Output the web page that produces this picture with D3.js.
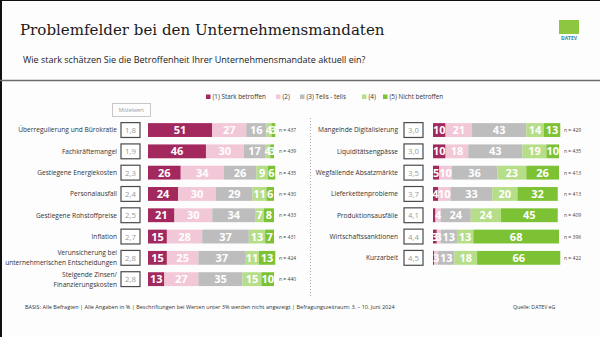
<!DOCTYPE html>
<html>
<head>
<meta charset="utf-8">
<script src="https://cdn.jsdelivr.net/npm/d3@7/dist/d3.min.js"></script>
<style>
body { margin: 0; background: #fdfdfd; }
svg { display: block; }
text { font-family: "Open Sans", "Noto Sans", sans-serif; }
</style>
</head>
<body>
<script>
// --- data ---
var legendLabels = ["(1) Stark betroffen", "(2)", "(3) Teils - teils", "(4)", "(5) Nicht betroffen"];

var leftCats = ["Überregulierung und Bürokratie", "Fachkräftemangel", "Gestiegene Energiekosten", "Personalausfall",
  "Gestiegene Rohstoffpreise", "Inflation", "Verunsicherung bei|unternehmerischen Entscheidungen", "Steigende Zinsen/|Finanzierungskosten"];
var leftMean = ["1,8", "1,9", "2,3", "2,4", "2,5", "2,7", "2,8", "2,8"];
var leftN = [437, 439, 435, 430, 433, 431, 424, 440];
var leftStark = [51, 46, 26, 24, 21, 15, 15, 13];
var leftTwo = [27, 30, 34, 30, 30, 28, 25, 27];
var leftTeils = [16, 17, 26, 29, 34, 37, 37, 35];
var leftFour = [4, 4, 9, 11, 7, 13, 11, 15];
var leftNicht = [3, 3, 6, 6, 8, 7, 13, 10];

var rightCats = ["Mangelnde Digitalisierung", "Liquiditätsengpässe", "Wegfallende Absatzmärkte", "Lieferkettenprobleme",
  "Produktionsausfälle", "Wirtschaftssanktionen", "Kurzarbeit"];
var rightMean = ["3,0", "3,0", "3,5", "3,7", "4,1", "4,4", "4,5"];
var rightN = [429, 435, 413, 413, 409, 396, 422];
var rightStark = [10, 10, 5, 4, 2, 3, 1];
var rightTwo = [21, 18, 10, 10, 4, 3, 3];
var rightTeils = [43, 43, 36, 33, 24, 13, 13];
var rightFour = [14, 19, 23, 20, 24, 13, 18];
var rightNicht = [13, 10, 26, 32, 45, 68, 66];

// --- layout ---
var width = 600, height = 337;
var keys = ["s1", "s2", "s3", "s4", "s5"];
var colors = ["#a3285e", "#f2c8d8", "#bdbdbd", "#b6dd88", "#7dc234"];
var color = d3.scaleOrdinal().domain(keys).range(colors);

var x = d3.scaleLinear().domain([0, 100]).range([0, 126]);
var y = d3.scaleBand().domain(d3.range(8)).range([119.4, 289.8]).paddingInner(0.35).paddingOuter(0.175);

var svg = d3.select("body").append("svg")
  .attr("width", width)
  .attr("height", height);

svg.append("rect").attr("width", width).attr("height", height).attr("fill", "#fdfdfd");
svg.append("rect").attr("x", 0).attr("y", 0).attr("width", 2).attr("height", height).attr("fill", "#111"); // frame left
svg.append("rect").attr("x", 0).attr("y", 0).attr("width", width).attr("height", 1).attr("fill", "#111"); // frame top

function fit(t, w) { // scale font so the text spans w px
  var l = t.node().getComputedTextLength();
  t.attr("font-size", parseFloat(t.attr("font-size")) * w / l);
}

var title = svg.append("text")
  .attr("x", 20).attr("y", 35)
  .attr("font-size", 17)
  .style("font-family", "'DejaVu Serif', serif")
  .attr("fill", "#1a1a1a")
  .text("Problemfelder bei den Unternehmensmandaten");
fit(title, 365);

var sub = svg.append("text")
  .attr("x", 23).attr("y", 63)
  .attr("font-size", 8.5)
  .attr("fill", "#222")
  .text("Wie stark schätzen Sie die Betroffenheit Ihrer Unternehmensmandate aktuell ein?");
fit(sub, 343);

// logo
svg.append("rect").attr("x", 559).attr("y", 20).attr("width", 20).attr("height", 14).attr("fill", "#8dc63f");
svg.append("text").attr("x", 569).attr("y", 40).attr("text-anchor", "middle")
  .attr("font-size", 5).attr("font-weight", "bold").attr("fill", "#2b86a8").text("DATEV");

svg.append("line") // rule under question
  .attr("x1", 0).attr("x2", width).attr("y1", 80.5).attr("y2", 80.5)
  .style("stroke", "#6b6b6b").style("stroke-width", 1.5);

// legend
var legendX = [206, 276, 300, 362, 383];
var leg = svg.selectAll("g.leg").data(keys).enter().append("g")
  .attr("transform", function(d, i) { return "translate(" + legendX[i] + ",99)"; });
leg.append("rect").attr("x", 0).attr("y", -4.5).attr("width", 4.5).attr("height", 4.5)
  .attr("fill", function(d) { return color(d); });
leg.append("text").attr("x", 6.5).attr("y", 0).attr("font-size", 6.3).attr("fill", "#333")
  .text(function(d, i) { return legendLabels[i]; });

// Mittelwert header box
svg.append("rect").attr("x", 112.5).attr("y", 103.5).attr("width", 38).attr("height", 13)
  .attr("fill", "none").attr("stroke", "#bbb").attr("stroke-width", 0.8);
svg.append("text").attr("x", 131.5).attr("y", 112).attr("text-anchor", "middle")
  .attr("font-size", 5.3).attr("fill", "#999").text("Mittelwert");

// dotted divider
svg.append("line")
  .attr("x1", 310.5).attr("x2", 310.5).attr("y1", 118).attr("y2", 298)
  .style("stroke", "#aaa").style("stroke-dasharray", "1,2");

function drawPanel(cats, means, ns, series, p) {
  var rows = cats.map(function(c, i) {
    var r = { cat: c, mean: means[i], n: ns[i], i: i };
    keys.forEach(function(k, j) { r[k] = series[j][i]; });
    return r;
  });
  var stacked = d3.stack().keys(keys)(rows);
  var g = svg.append("g");

  // category labels (right aligned, some on two lines)
  var lab = g.selectAll("text.cat").data(rows).enter().append("text")
    .attr("text-anchor", "end")
    .attr("font-size", 6.6)
    .attr("fill", "#333");
  lab.each(function(d) {
    var lines = d.cat.split("|");
    var cy = y(d.i) + y.bandwidth() / 2;
    d3.select(this).selectAll("tspan").data(lines).enter().append("tspan")
      .attr("x", p.labelX)
      .attr("y", function(l, k) { return cy + 2.4 + (k - (lines.length - 1) / 2) * 10; })
      .text(function(l) { return l; });
  });

  // mean boxes
  g.selectAll("rect.mean").data(rows).enter().append("rect")
    .attr("x", p.boxX).attr("y", function(d) { return y(d.i) - 0.5; })
    .attr("width", 19).attr("height", y.bandwidth() + 1)
    .attr("fill", "#fff").attr("stroke", "#4a4a4a").attr("stroke-width", 1.2);
  g.selectAll("text.mean").data(rows).enter().append("text")
    .attr("x", p.boxX + 9.5).attr("y", function(d) { return y(d.i) + y.bandwidth() / 2 + 3; })
    .attr("text-anchor", "middle").attr("font-size", 7.8).attr("fill", "#9a9a9a")
    .text(function(d) { return d.mean; });

  // stacked bars
  var layer = g.selectAll("g.layer").data(stacked).enter().append("g")
    .attr("fill", function(d) { return color(d.key); });
  layer.selectAll("rect").data(function(d) { return d; }).enter().append("rect")
    .attr("x", function(d) { return p.x0 + x(d[0]); })
    .attr("y", function(d) { return y(d.data.i); })
    .attr("width", function(d) { return x(d[1]) - x(d[0]); })
    .attr("height", y.bandwidth());

  // value labels (not shown below 3 %)
  var vals = g.selectAll("g.vals").data(stacked).enter().append("g");
  vals.selectAll("text").data(function(d) { return d.filter(function(s) { return s[1] - s[0] >= 3; }); })
    .enter().append("text")
    .attr("x", function(d) { return p.x0 + x((d[0] + d[1]) / 2); })
    .attr("y", function(d) { return y(d.data.i) + y.bandwidth() / 2 + 4; })
    .attr("text-anchor", "middle")
    .attr("font-size", 11).attr("font-weight", "bold").attr("fill", "#fff")
    .text(function(d) { return d[1] - d[0]; });

  // n = ...
  g.selectAll("text.n").data(rows).enter().append("text")
    .attr("x", p.nX).attr("y", function(d) { return y(d.i) + y.bandwidth() / 2 + 2; })
    .attr("font-size", 5).attr("fill", "#444")
    .text(function(d) { return "n = " + d.n; });
}

drawPanel(leftCats, leftMean, leftN, [leftStark, leftTwo, leftTeils, leftFour, leftNicht],
  { x0: 148, labelX: 117, boxX: 121, nX: 279 });
drawPanel(rightCats, rightMean, rightN, [rightStark, rightTwo, rightTeils, rightFour, rightNicht],
  { x0: 433, labelX: 398, boxX: 404, nX: 564 });

// footer
var foot = svg.append("text")
  .attr("x", 25).attr("y", 309)
  .attr("font-size", 5.2).attr("fill", "#333")
  .text("BASIS: Alle Befragten | Alle Angaben in % | Beschriftungen  bei Werten unter 3% werden nicht angezeigt | Befragungszeitraum: 3. – 10. Juni 2024");
fit(foot, 370);
svg.append("text").attr("x", 513).attr("y", 309)
  .attr("font-size", 5.2).attr("fill", "#333").text("Quelle: DATEV eG");
</script>
</body>
</html>
